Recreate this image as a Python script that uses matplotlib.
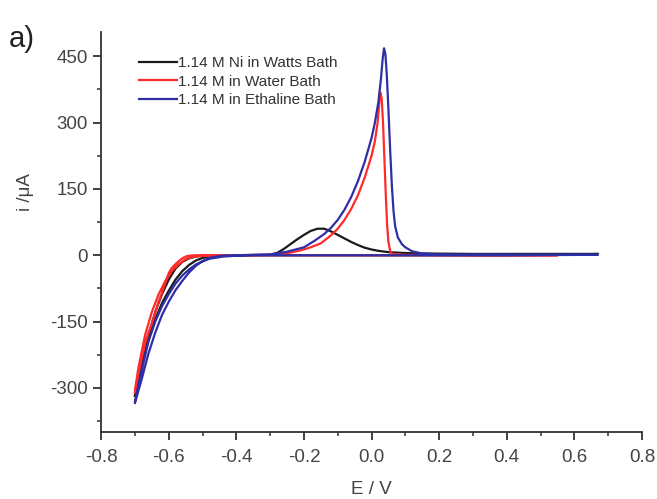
import matplotlib
matplotlib.use("Agg")
import matplotlib.pyplot as plt
from matplotlib.ticker import MultipleLocator, FormatStrFormatter

plt.rcParams["font.family"] = ["Liberation Sans", "DejaVu Sans"]
plt.rcParams["axes.unicode_minus"] = False

# ── Data ──────────────────────────────────────────────────────────────────────
# each CV is a closed loop: anodic sweep from -0.7 V, then back to -0.7 V

# 1.14 M Ni in Watts Bath
watts_E = [-0.70, -0.68, -0.66, -0.64, -0.62, -0.60, -0.58, -0.56, -0.54, -0.52,
           -0.50, -0.48, -0.45, -0.40, -0.30, -0.28, -0.26, -0.24, -0.22, -0.20,
           -0.18, -0.16, -0.14, -0.12, -0.10, -0.08, -0.06, -0.04, -0.02, 0.00,
           0.02, 0.05, 0.10, 0.15, 0.30, 0.50, 0.67,
           0.60, 0.40, 0.20, 0.00, -0.20, -0.40, -0.45, -0.50, -0.52, -0.54,
           -0.56, -0.58, -0.60, -0.62, -0.64, -0.66, -0.68, -0.70]
watts_i = [-318, -245, -190, -145, -108, -80, -55, -36, -22, -12,
           -6, -3, -1, 0, 1, 5, 14, 25, 36, 46,
           55, 60, 60, 54, 46, 38, 30, 23, 17, 13,
           10, 7, 5, 4, 3, 3, 3,
           1, 0, 0, 0, 0, 0, 0, -1, -3, -7,
           -15, -30, -55, -88, -128, -180, -240, -318]

# 1.14 M in Water Bath
water_E = [-0.70, -0.69, -0.68, -0.67, -0.66, -0.65, -0.64, -0.63, -0.62, -0.61,
           -0.60, -0.59, -0.58, -0.57, -0.56, -0.55, -0.54, -0.52, -0.40, -0.30,
           -0.27, -0.24, -0.21, -0.18, -0.15, -0.12, -0.10, -0.08, -0.06, -0.04,
           -0.02, 0.00, 0.010, 0.018, 0.023, 0.026, 0.030, 0.034, 0.038, 0.042,
           0.046, 0.050, 0.055, 0.060, 0.070, 0.10, 0.30, 0.55,
           0.30, 0.00, -0.30, -0.45, -0.50, -0.53, -0.55, -0.57, -0.59, -0.61,
           -0.63, -0.65, -0.67, -0.69, -0.70]
water_i = [-311, -270, -234, -200, -175, -155, -130, -105, -85, -62,
           -40, -28, -20, -13, -7, -3, -1, 0, 0, 1,
           3, 6, 11, 18, 27, 45, 60, 80, 105, 136,
           176, 225, 258, 300, 345, 368, 355, 300, 220, 140,
           70, 30, 10, 4, 2, 1, 0, 0,
           0, 0, 0, 0, -1, -4, -9, -20, -35, -58,
           -88, -128, -180, -255, -305]

# 1.14 M in Ethaline Bath
ethaline_E = [-0.70, -0.68, -0.66, -0.64, -0.62, -0.60, -0.58, -0.56, -0.54, -0.52,
              -0.50, -0.48, -0.46, -0.44, -0.40, -0.30, -0.25, -0.20, -0.17, -0.14,
              -0.12, -0.10, -0.08, -0.06, -0.04, -0.02, 0.00, 0.010, 0.020, 0.028,
              0.033, 0.037, 0.041, 0.045, 0.050, 0.055, 0.060, 0.065, 0.070, 0.078,
              0.09, 0.10, 0.12, 0.15, 0.20, 0.67,
              0.40, 0.00, -0.35, -0.40, -0.44, -0.48, -0.50, -0.52, -0.54, -0.56,
              -0.58, -0.60, -0.62, -0.64, -0.66, -0.68, -0.70]
ethaline_i = [-334, -280, -222, -175, -135, -105, -79, -58, -39, -24,
              -13, -6, -3, -1, 0, 2, 8, 18, 32, 48,
              62, 80, 103, 132, 168, 212, 265, 300, 345, 400,
              445, 468, 455, 410, 330, 240, 160, 100, 65, 40,
              25, 18, 9, 4, 2, 1,
              0, 0, 0, -1, -3, -8, -14, -21, -32, -46,
              -64, -88, -115, -150, -195, -260, -330]

labels = ["1.14 M Ni in Watts Bath", "1.14 M in Water Bath", "1.14 M in Ethaline Bath"]
colors = ["#1a1a1a", "#ff2a2a", "#2e2ea6"]

# ── Plot ──────────────────────────────────────────────────────────────────────
fig = plt.figure(figsize=(6.57, 4.99), dpi=100)
ax = fig.add_axes([0.154, 0.134, 0.823, 0.802])

for E, i, lab, c in zip([watts_E, water_E, ethaline_E],
                        [watts_i, water_i, ethaline_i], labels, colors):
    ax.plot(E, i, color=c, lw=1.6, label=lab, solid_joinstyle="round")

ax.set_xlim(-0.8, 0.8)
ax.set_ylim(-400, 505)
ax.xaxis.set_major_locator(MultipleLocator(0.2))
ax.xaxis.set_minor_locator(MultipleLocator(0.1))
ax.xaxis.set_major_formatter(FormatStrFormatter("%.1f"))
ax.yaxis.set_major_locator(MultipleLocator(150))
ax.yaxis.set_minor_locator(MultipleLocator(75))

for side in ["top", "right"]:
    ax.spines[side].set_visible(False)
for side in ["left", "bottom"]:
    ax.spines[side].set_linewidth(1.3)
    ax.spines[side].set_color("#333333")

ax.tick_params(which="major", direction="out", length=6, width=1.3,
               labelsize=13.5, colors="#333333", labelcolor="#444444")
ax.tick_params(axis="x", which="major", pad=6)
ax.tick_params(which="minor", direction="out", length=3, width=1.1, colors="#333333")

ax.set_xlabel("E / V", fontsize=13.5, color="#444444")
ax.xaxis.set_label_coords(0.5, -0.122)
ax.set_ylabel("i /μA", fontsize=13.5, color="#444444")
ax.yaxis.set_label_coords(-0.125, 0.6)

leg = ax.legend(loc="upper left", bbox_to_anchor=(0.058, 0.955), frameon=False,
                fontsize=11, handlelength=2.5, handletextpad=0.05,
                labelspacing=0.3, borderaxespad=0)
for t in leg.get_texts():
    t.set_color("#333333")

fig.text(0.014, 0.905, "a)", fontsize=21, color="#222222")

fig.savefig("out.png", dpi=100)
